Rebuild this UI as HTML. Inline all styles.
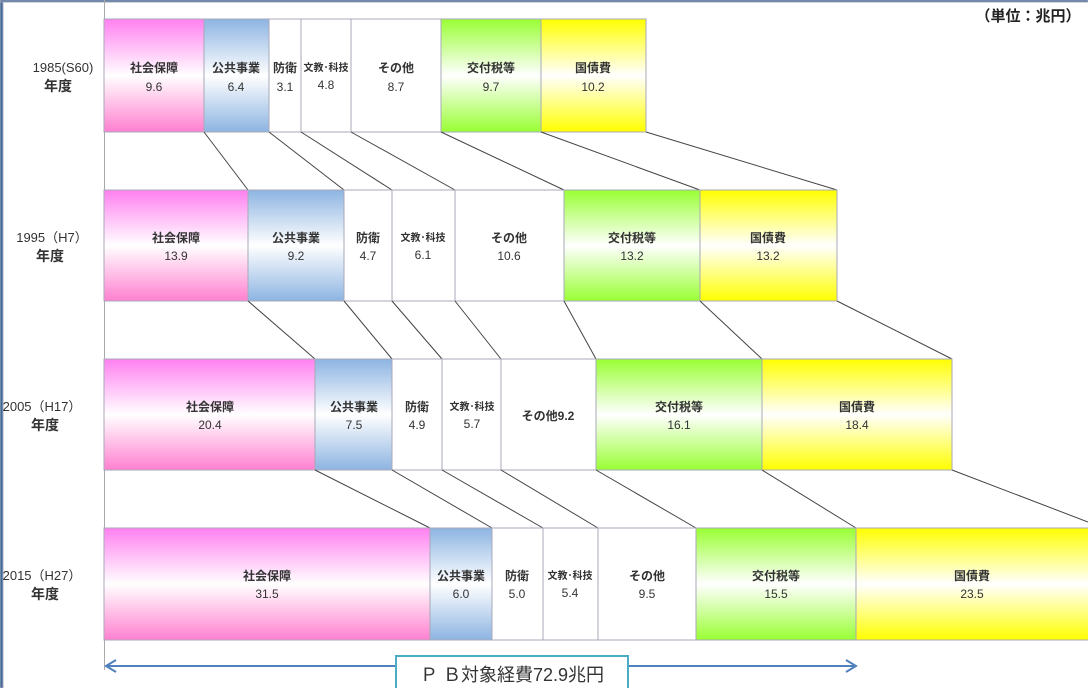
<!DOCTYPE html>
<html><head><meta charset="utf-8"><style>
body{margin:0;background:#fff}
svg{display:block;font-family:"Liberation Sans","Noto Sans CJK JP",sans-serif}
.l{font-size:12px;font-weight:bold;fill:#333;text-anchor:middle}
.s{font-size:10px;font-weight:bold;fill:#333;text-anchor:middle}
.v{font-size:12px;fill:#333;text-anchor:middle}
.y{font-size:13px;fill:#333;text-anchor:middle}
.yb{font-size:14px;font-weight:bold;fill:#333;text-anchor:middle}
.c{stroke:#444;stroke-width:1;fill:none}
rect{stroke:#a8a8b8;stroke-width:1}
</style></head><body>
<svg width="1088" height="688" viewBox="0 0 1088 688">
<defs>
<linearGradient id="p" x1="0" y1="0" x2="0" y2="1"><stop offset="0" stop-color="#ff80f0"/><stop offset=".5" stop-color="#fff"/><stop offset="1" stop-color="#ff80d0"/></linearGradient>
<linearGradient id="b" x1="0" y1="0" x2="0" y2="1"><stop offset="0" stop-color="#8db4e2"/><stop offset=".5" stop-color="#fff"/><stop offset="1" stop-color="#8db4e2"/></linearGradient>
<linearGradient id="g" x1="0" y1="0" x2="0" y2="1"><stop offset="0" stop-color="#99ff33"/><stop offset=".5" stop-color="#fff"/><stop offset="1" stop-color="#99ff33"/></linearGradient>
<linearGradient id="yl" x1="0" y1="0" x2="0" y2="1"><stop offset="0" stop-color="#ffff00"/><stop offset=".5" stop-color="#fff"/><stop offset="1" stop-color="#ffff00"/></linearGradient>
</defs>
<rect x="0" y="0" width="3" height="688" fill="#3d6a9a" stroke="none"/>
<rect x="0" y="0" width="1088" height="2" fill="#3d6a9a" stroke="none"/>
<line x1="104.5" y1="0" x2="104.5" y2="670" stroke="#aaa"/>
<text x="1028" y="21" style="font-size:15px;font-weight:bold;fill:#222;text-anchor:middle">（単位：兆円）</text>

<rect x="104" y="19" width="100" height="113" fill="url(#p)"/>
<rect x="204" y="19" width="65" height="113" fill="url(#b)"/>
<rect x="269" y="19" width="32" height="113" fill="#fff"/>
<rect x="301" y="19" width="50" height="113" fill="#fff"/>
<rect x="351" y="19" width="90" height="113" fill="#fff"/>
<rect x="441" y="19" width="100" height="113" fill="url(#g)"/>
<rect x="541" y="19" width="105" height="113" fill="url(#yl)"/>
<text class="y" x="63" y="72">1985(S60)</text><text class="yb" x="58" y="91">年度</text>
<text class="l" x="154" y="72">社会保障</text><text class="v" x="154" y="91">9.6</text>
<text class="l" x="236" y="72">公共事業</text><text class="v" x="236" y="91">6.4</text>
<text class="l" x="285" y="72">防衛</text><text class="v" x="285" y="91">3.1</text>
<text class="s" x="326" y="71">文教･科技</text><text class="v" x="326" y="89">4.8</text>
<text class="l" x="396" y="72">その他</text><text class="v" x="396" y="91">8.7</text>
<text class="l" x="491" y="72">交付税等</text><text class="v" x="491" y="91">9.7</text>
<text class="l" x="593" y="72">国債費</text><text class="v" x="593" y="91">10.2</text>

<path class="c" d="M204 132L248 190M269 132L344 190M301 132L392 190M351 132L455 190M441 132L564 190M541 132L700 190M646 132L837 190"/>

<rect x="104" y="190" width="144" height="111" fill="url(#p)"/>
<rect x="248" y="190" width="96" height="111" fill="url(#b)"/>
<rect x="344" y="190" width="48" height="111" fill="#fff"/>
<rect x="392" y="190" width="63" height="111" fill="#fff"/>
<rect x="455" y="190" width="109" height="111" fill="#fff"/>
<rect x="564" y="190" width="136" height="111" fill="url(#g)"/>
<rect x="700" y="190" width="137" height="111" fill="url(#yl)"/>
<text class="y" x="52" y="242">1995（H7）</text><text class="yb" x="50" y="261">年度</text>
<text class="l" x="176" y="242">社会保障</text><text class="v" x="176" y="260">13.9</text>
<text class="l" x="296" y="242">公共事業</text><text class="v" x="296" y="260">9.2</text>
<text class="l" x="368" y="242">防衛</text><text class="v" x="368" y="260">4.7</text>
<text class="s" x="423" y="241">文教･科技</text><text class="v" x="423" y="259">6.1</text>
<text class="l" x="509" y="242">その他</text><text class="v" x="509" y="260">10.6</text>
<text class="l" x="632" y="242">交付税等</text><text class="v" x="632" y="260">13.2</text>
<text class="l" x="768" y="242">国債費</text><text class="v" x="768" y="260">13.2</text>

<path class="c" d="M248 301L315 359M344 301L392 359M392 301L442 359M455 301L501 359M564 301L596 359M700 301L762 359M837 301L952 359"/>

<rect x="104" y="359" width="211" height="111" fill="url(#p)"/>
<rect x="315" y="359" width="77" height="111" fill="url(#b)"/>
<rect x="392" y="359" width="50" height="111" fill="#fff"/>
<rect x="442" y="359" width="59" height="111" fill="#fff"/>
<rect x="501" y="359" width="95" height="111" fill="#fff"/>
<rect x="596" y="359" width="166" height="111" fill="url(#g)"/>
<rect x="762" y="359" width="190" height="111" fill="url(#yl)"/>
<text class="y" x="42" y="411">2005（H17）</text><text class="yb" x="45" y="430">年度</text>
<text class="l" x="210" y="411">社会保障</text><text class="v" x="210" y="429">20.4</text>
<text class="l" x="354" y="411">公共事業</text><text class="v" x="354" y="429">7.5</text>
<text class="l" x="417" y="411">防衛</text><text class="v" x="417" y="429">4.9</text>
<text class="s" x="472" y="410">文教･科技</text><text class="v" x="472" y="428">5.7</text>
<text class="l" x="548" y="420">その他9.2</text>
<text class="l" x="679" y="411">交付税等</text><text class="v" x="679" y="429">16.1</text>
<text class="l" x="857" y="411">国債費</text><text class="v" x="857" y="429">18.4</text>

<path class="c" d="M315 470L430 528M392 470L492 528M442 470L543 528M501 470L598 528M596 470L696 528M762 470L856 528M952 470L1088 522"/>

<rect x="104" y="528" width="326" height="112" fill="url(#p)"/>
<rect x="430" y="528" width="62" height="112" fill="url(#b)"/>
<rect x="492" y="528" width="51" height="112" fill="#fff"/>
<rect x="543" y="528" width="55" height="112" fill="#fff"/>
<rect x="598" y="528" width="98" height="112" fill="#fff"/>
<rect x="696" y="528" width="160" height="112" fill="url(#g)"/>
<rect x="856" y="528" width="233" height="112" fill="url(#yl)"/>
<text class="y" x="42" y="580">2015（H27）</text><text class="yb" x="45" y="599">年度</text>
<text class="l" x="267" y="580">社会保障</text><text class="v" x="267" y="598">31.5</text>
<text class="l" x="461" y="580">公共事業</text><text class="v" x="461" y="598">6.0</text>
<text class="l" x="517" y="580">防衛</text><text class="v" x="517" y="598">5.0</text>
<text class="s" x="570" y="579">文教･科技</text><text class="v" x="570" y="597">5.4</text>
<text class="l" x="647" y="580">その他</text><text class="v" x="647" y="598">9.5</text>
<text class="l" x="776" y="580">交付税等</text><text class="v" x="776" y="598">15.5</text>
<text class="l" x="972" y="580">国債費</text><text class="v" x="972" y="598">23.5</text>

<line x1="106" y1="666" x2="856" y2="666" stroke="#4f81bd" stroke-width="2"/>
<path d="M116 660L106 666L116 672M846 660L856 666L846 672" stroke="#4f81bd" stroke-width="2" fill="none"/>
<rect x="396" y="656" width="232" height="34" fill="#fff" style="stroke:#4bacc6;stroke-width:2"/>
<text x="512" y="681" style="font-size:18px;fill:#333;text-anchor:middle">Ｐ Ｂ対象経費72.9兆円</text>
</svg>
</body></html>
